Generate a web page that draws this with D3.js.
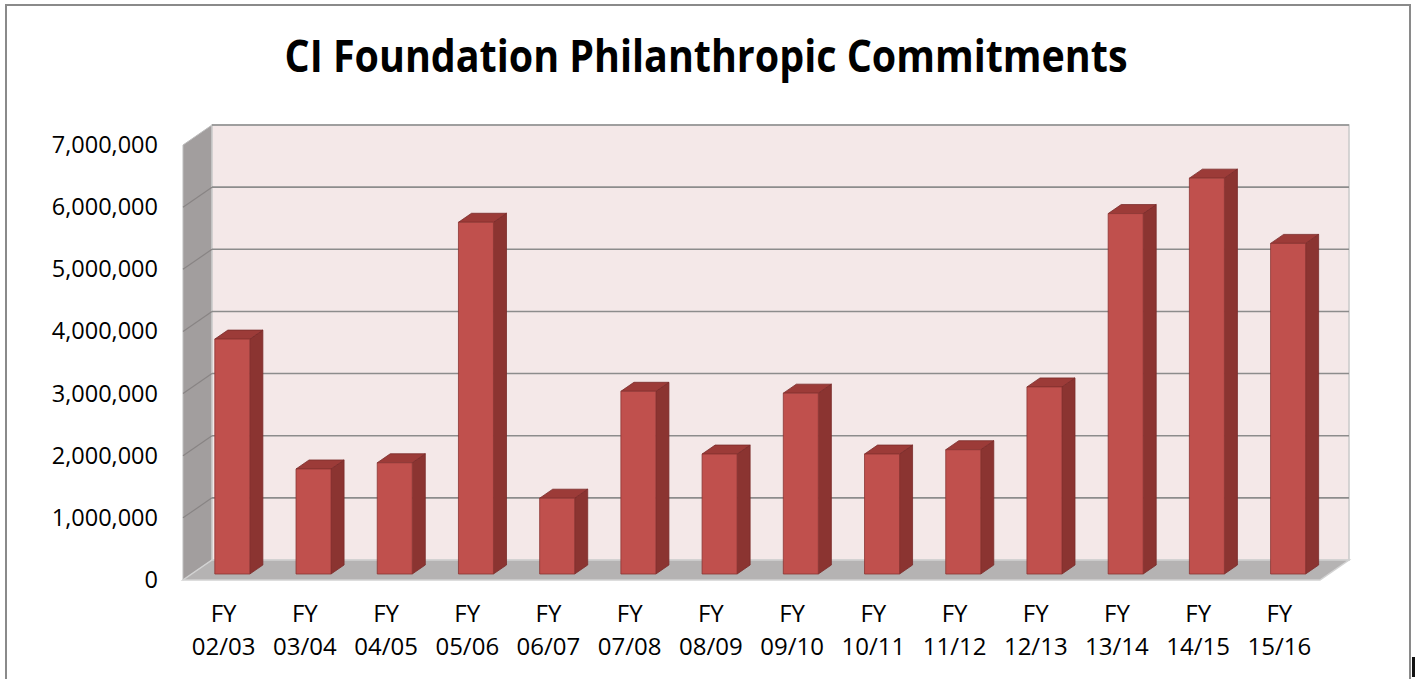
<!DOCTYPE html>
<html lang="en">
<head>
  <meta charset="UTF-8">
  <title>CI Foundation Philanthropic Commitments</title>
  <script src="https://cdn.jsdelivr.net/npm/d3@7"></script>
  <style>
    body { margin: 0; background: #fff; }
    svg { display: block; font-family: "Open Sans", "Liberation Sans", sans-serif; }
  </style>
</head>
<body>
  <script>
    // data
    var categories = ["02/03", "03/04", "04/05", "05/06", "06/07", "07/08", "08/09",
                      "09/10", "10/11", "11/12", "12/13", "13/14", "14/15", "15/16"];
    var commitments = [3780000, 1690000, 1790000, 5660000, 1220000, 2940000, 1930000,
                       2910000, 1930000, 2000000, 3010000, 5800000, 6370000, 5320000];
    var yTicks = [0, 1000000, 2000000, 3000000, 4000000, 5000000, 6000000, 7000000];

    var width = 1416, height = 679;
    var svg = d3.select("body").append("svg")
      .attr("width", width)
      .attr("height", height);

    // outer chart frame (bottom runs off the picture)
    svg.append("rect")
      .attr("x", 6).attr("y", 5)
      .attr("width", 1404).attr("height", 700)
      .attr("fill", "#fff")
      .attr("stroke", "#8a8a8a")
      .attr("stroke-width", 2);

    // title
    svg.append("text")
      .attr("x", 706)
      .attr("y", 72)
      .attr("text-anchor", "middle")
      .attr("font-weight", "bold")
      .attr("font-size", 44)
      .attr("textLength", 843)
      .attr("lengthAdjust", "spacingAndGlyphs")
      .attr("fill", "#000")
      .text("CI Foundation Philanthropic Commitments");

    /* SCALES */
    // back wall coordinates
    var wallLeft = 212, wallRight = 1349;
    var scaleX = d3.scaleBand()
      .domain(categories)
      .range([wallLeft, wallRight]);

    var scaleY = d3.scaleLinear()
      .domain([0, 7000000])
      .range([560, 125]);

    // oblique depth: 0 = back wall, 1 = front edge of floor
    var depthX = -29, depthY = 20;
    function proj(x, v, d) {
      return [x + d * depthX, scaleY(v) + d * depthY];
    }
    function poly(pts) {
      return "M" + pts.map(p => p[0].toFixed(2) + "," + p[1].toFixed(2)).join("L") + "Z";
    }

    var walls = svg.append("g");

    // side wall
    walls.append("path")
      .attr("d", poly([proj(wallLeft, 7000000, 0), proj(wallLeft, 0, 0),
                       proj(wallLeft, 0, 1), proj(wallLeft, 7000000, 1)]))
      .attr("fill", "#a29e9e")
      .attr("stroke", "#bdbdbd")
      .attr("stroke-width", 1);

    // back wall
    walls.append("path")
      .attr("d", poly([proj(wallLeft, 7000000, 0), proj(wallRight, 7000000, 0),
                       proj(wallRight, 0, 0), proj(wallLeft, 0, 0)]))
      .attr("fill", "#f4e8e8")
      .attr("stroke", "#c9c9c9")
      .attr("stroke-width", 1.5);

    // floor
    walls.append("path")
      .attr("d", poly([proj(wallLeft, 0, 0), proj(wallRight, 0, 0),
                       proj(wallRight, 0, 1), proj(wallLeft, 0, 1)]))
      .attr("fill", "#b5b3b3")
      .attr("stroke", "#d2d2d2")
      .attr("stroke-width", 1.5);

    // gridlines on back wall and side wall
    var grid = svg.append("g");
    grid.selectAll("line.back")
      .data(yTicks.filter(t => t > 0))
      .enter().append("line")
      .attr("class", "back")
      .attr("x1", wallLeft).attr("x2", wallRight)
      .attr("y1", d => scaleY(d)).attr("y2", d => scaleY(d))
      .attr("stroke", "#8c8c8c")
      .attr("stroke-width", 1.6);
    grid.selectAll("line.side")
      .data(yTicks.filter(t => t > 0 && t < 7000000))
      .enter().append("line")
      .attr("class", "side")
      .attr("x1", d => proj(wallLeft, d, 0)[0]).attr("y1", d => proj(wallLeft, d, 0)[1])
      .attr("x2", d => proj(wallLeft, d, 1)[0]).attr("y2", d => proj(wallLeft, d, 1)[1])
      .attr("stroke", "#888484")
      .attr("stroke-width", 1.2);

    /* BARS */
    var halfW = 17.5, frontD = 0.7, backD = 0.25;
    var bars = svg.append("g").selectAll("g")
      .data(categories.map((c, i) => ({cat: c, value: commitments[i]})))
      .enter().append("g");

    function xc(d) { return scaleX(d.cat) + scaleX.bandwidth() / 2; }

    // side face
    bars.append("path")
      .attr("d", d => poly([proj(xc(d) + halfW, d.value, frontD), proj(xc(d) + halfW, d.value, backD),
                            proj(xc(d) + halfW, 0, backD), proj(xc(d) + halfW, 0, frontD)]))
      .attr("fill", "#8b3431")
      .attr("stroke", "#7a2b29")
      .attr("stroke-width", 0.8);
    // top face
    bars.append("path")
      .attr("d", d => poly([proj(xc(d) - halfW, d.value, frontD), proj(xc(d) - halfW, d.value, backD),
                            proj(xc(d) + halfW, d.value, backD), proj(xc(d) + halfW, d.value, frontD)]))
      .attr("fill", "#9c3b38")
      .attr("stroke", "#7a2b29")
      .attr("stroke-width", 0.8);
    // front face
    bars.append("path")
      .attr("d", d => poly([proj(xc(d) - halfW, d.value, frontD), proj(xc(d) + halfW, d.value, frontD),
                            proj(xc(d) + halfW, 0, frontD), proj(xc(d) - halfW, 0, frontD)]))
      .attr("fill", "#c0504d")
      .attr("stroke", "#8c3532")
      .attr("stroke-width", 0.8);

    /* AXES */
    // value axis on the front plane of the floor
    var scaleYFront = d3.scaleLinear()
      .domain(scaleY.domain())
      .range(scaleY.range().map(r => r + depthY));
    var axisY = d3.axisLeft(scaleYFront)
      .tickValues(yTicks)
      .tickFormat(d3.format(","))
      .tickSize(0)
      .tickPadding(25);
    var gy = svg.append("g")
      .attr("transform", "translate(" + (wallLeft + depthX) + ",0)")
      .call(axisY);
    gy.select(".domain").remove();
    gy.selectAll("text")
      .attr("font-family", "'Open Sans', sans-serif")
      .attr("font-size", 23.5)
      .attr("fill", "#000");

    // category axis on the front edge of the floor
    var scaleXFront = d3.scaleBand()
      .domain(categories)
      .range([wallLeft + depthX, wallRight + depthX]);
    var axisX = d3.axisBottom(scaleXFront).tickSize(0);
    var gx = svg.append("g")
      .attr("transform", "translate(0," + (scaleY(0) + depthY) + ")")
      .call(axisX);
    gx.select(".domain").remove();
    gx.selectAll("text")
      .attr("font-family", "'Open Sans', sans-serif")
      .attr("font-size", 24)
      .attr("fill", "#000")
      .attr("y", 0)
      .attr("dy", null)
      .text(null)
      .each(function(d) {
        var t = d3.select(this);
        t.append("tspan").attr("x", 0).attr("y", 42).text("FY");
        t.append("tspan").attr("x", 0).attr("y", 75).text(d);
      });

    // sliver of a clipped glyph at the far right edge
    svg.append("rect")
      .attr("x", 1412).attr("y", 657)
      .attr("width", 3).attr("height", 20)
      .attr("fill", "#111");
  </script>
</body>
</html>
